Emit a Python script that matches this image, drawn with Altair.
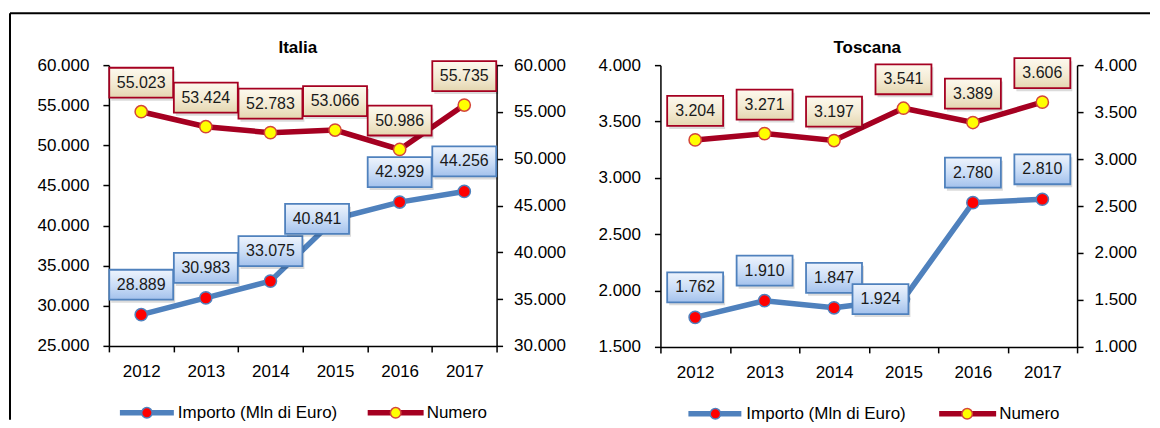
import altair as alt
import pandas as pd

# ---------------- data ----------------
years = ["2012", "2013", "2014", "2015", "2016", "2017"]
italia_importo = [28889, 30983, 33075, 40841, 42929, 44256]
italia_numero = [55023, 53424, 52783, 53066, 50986, 55735]
toscana_importo = [1762, 1910, 1847, 1924, 2780, 2810]
toscana_numero = [3204, 3271, 3197, 3541, 3389, 3606]

series_names = ["Importo (Mln di Euro)", "Numero"]
panel_titles = ["Italia", "Toscana"]

italia_left_ticks = [25000, 30000, 35000, 40000, 45000, 50000, 55000, 60000]
italia_right_ticks = [30000, 35000, 40000, 45000, 50000, 55000, 60000]
toscana_left_ticks = [1500, 2000, 2500, 3000, 3500, 4000]
toscana_right_ticks = [1000, 1500, 2000, 2500, 3000, 3500, 4000]

# where each data label sits relative to its point
importo_label_pos = ["above", "above", "above", "left", "above", "above"]
numero_label_pos = ["above", "above", "above", "above", "above", "above"]

# ---------------- style ----------------
FONT = "Liberation Sans"
BLUE = "#4f81bd"
DARKRED = "#a50021"
FMT = "replace(format(datum.value, ','), ',', '.')"

blue_grad = alt.Gradient(gradient="linear", x1=0, y1=0, x2=0, y2=1,
                         stops=[alt.GradientStop(color="#eef4fd", offset=0),
                                alt.GradientStop(color="#c9dcf6", offset=0.55),
                                alt.GradientStop(color="#a3c1ec", offset=1)])
beige_grad = alt.Gradient(gradient="linear", x1=0, y1=0, x2=0, y2=1,
                          stops=[alt.GradientStop(color="#fdf9ee", offset=0),
                                 alt.GradientStop(color="#f3ead2", offset=0.55),
                                 alt.GradientStop(color="#e4d6b0", offset=1)])

dummy = alt.Data(values=[{"a": 1}])


def box_path(bw, bh, ox, oy):
    u = bw / 2.0
    x0, x1 = (ox - bw / 2) / u, (ox + bw / 2) / u
    y0, y1 = (oy - bh / 2) / u, (oy + bh / 2) / u
    return f"M{x0:.4f},{y0:.4f}L{x1:.4f},{y0:.4f}L{x1:.4f},{y1:.4f}L{x0:.4f},{y1:.4f}Z"


def series_group(values, pos, nudges, domain, ticks, orient, line_color, mk_fill, mk_stroke,
                 box_fill, box_stroke, box_w):
    df = pd.DataFrame({"year": years, "v": values, "pos": pos})
    x_enc = alt.X("year:N", sort=years,
                  scale=alt.Scale(type="band", paddingInner=0, paddingOuter=0),
                  axis=alt.Axis(title=None, labelAngle=0, tickBand="extent",
                                labelPadding=12, domainColor="#000000"))
    y_enc = alt.Y("v:Q",
                  scale=alt.Scale(domain=domain, nice=False, zero=False),
                  axis=alt.Axis(title=None, orient=orient, values=ticks, labelExpr=FMT,
                                labelPadding=14 if orient == "left" else 11))
    base = alt.Chart(df).encode(x=x_enc, y=y_enc)
    layers = [
        base.mark_line(color=line_color, strokeWidth=5.5),
        base.mark_point(filled=True, fill=mk_fill, stroke=mk_stroke, strokeWidth=1.5,
                        size=150, opacity=1),
    ]
    lab = base.transform_calculate(label="replace(format(datum.v, ','), ',', '.')")
    for key in sorted(set(pos)):
        ox, oy = nudges[key]
        sub = lab.transform_filter(alt.datum.pos == key)
        layers.append(sub.mark_point(shape=box_path(box_w, 30, ox + 2, oy + 3),
                                     size=box_w * box_w, filled=True, fill="#000000",
                                     opacity=0.14))
        layers.append(sub.mark_point(shape=box_path(box_w, 30, ox, oy),
                                     size=box_w * box_w, filled=True, fill=box_fill,
                                     stroke=box_stroke, strokeWidth=1.8, opacity=1))
        layers.append(sub.mark_text(font=FONT, fontSize=16, color="#1a1a1a",
                                    baseline="middle", align="center", dx=ox, dy=oy).encode(
            text="label:N"))
    return alt.layer(*layers)


def legend_layers(x0, x1, xc, xt, y, name, line_color, mk_fill, mk_stroke):
    ln = alt.Chart(dummy).mark_rule(color=line_color, strokeWidth=5.5).encode(
        x=alt.value(x0), x2=alt.value(x1), y=alt.value(y))
    mk = alt.Chart(dummy).mark_point(filled=True, fill=mk_fill, stroke=mk_stroke,
                                     strokeWidth=1.5, size=110, opacity=1).encode(
        x=alt.value(xc), y=alt.value(y))
    tx = alt.Chart(dummy).mark_text(font=FONT, fontSize=17, align="left", baseline="middle",
                                    color="#000000").encode(
        x=alt.value(xt), y=alt.value(y), text=alt.value(name))
    return [ln, mk, tx]


def panel(title, title_x, imp, num, imp_nudges, imp_dom, imp_ticks, num_dom, num_ticks,
          W, H, box_w, leg, frame):
    g_imp = series_group(imp, importo_label_pos, imp_nudges, imp_dom, imp_ticks, "left",
                         BLUE, "#ff0000", BLUE, blue_grad, BLUE, box_w)
    g_num = series_group(num, numero_label_pos, {"above": (0, -29)}, num_dom, num_ticks,
                         "right", DARKRED, "#ffff00", "#d4463a", beige_grad, DARKRED, box_w)
    ttl = alt.Chart(dummy).mark_text(font=FONT, fontSize=17, fontWeight="bold",
                                     color="#000000", baseline="middle").encode(
        x=alt.value(title_x), y=alt.value(-17), text=alt.value(title))
    ly = H + 67
    decos = [ttl]
    decos += legend_layers(leg[0], leg[1], leg[2], leg[3], ly, series_names[0], BLUE,
                           "#ff0000", BLUE)
    decos += legend_layers(leg[4], leg[5], leg[6], leg[7], ly, series_names[1], DARKRED,
                           "#ffff00", "#d4463a")
    decos += frame
    return alt.layer(g_imp, g_num, *decos).resolve_scale(y="independent").properties(
        width=W, height=H)


W1, H1 = 388, 281
W2, H2 = 417, 282

frame1 = [
    alt.Chart(dummy).mark_rule(color="#000000", strokeWidth=2).encode(
        x=alt.value(-99), y=alt.value(-52), y2=alt.value(H1 + 74)),
    alt.Chart(dummy).mark_rule(color="#000000", strokeWidth=2).encode(
        x=alt.value(-99), x2=alt.value(1042), y=alt.value(-52)),
]

p1 = panel(panel_titles[0], 189, italia_importo, italia_numero,
           {"above": (0, -30), "left": (-18, 0)},
           [25000, 60000], italia_left_ticks, [30000, 60000], italia_right_ticks,
           W1, H1, 64, [11, 65, 38, 69, 259, 315, 287, 318], frame1)
p2 = panel(panel_titles[1], 207, toscana_importo, toscana_numero,
           {"above": (0, -30), "left": (-23, 0)},
           [1500, 4000], toscana_left_ticks, [1000, 4000], toscana_right_ticks,
           W2, H2, 56, [28, 81, 55, 86, 279, 336, 307, 339], [])

chart = alt.hconcat(p1, p2, spacing=164, bounds="flush").properties(
    padding={"left": 0, "top": 3, "right": 0, "bottom": 0},
    background="#ffffff",
).configure_view(stroke="transparent").configure_axis(
    labelFont=FONT, labelFontSize=17, labelColor="#000000", domainColor="#000000",
    tickColor="#000000", domainWidth=1.5, tickWidth=1.5, tickSize=6, grid=False,
)

chart.save("out.html", embed_options={"renderer": "svg", "actions": False})
